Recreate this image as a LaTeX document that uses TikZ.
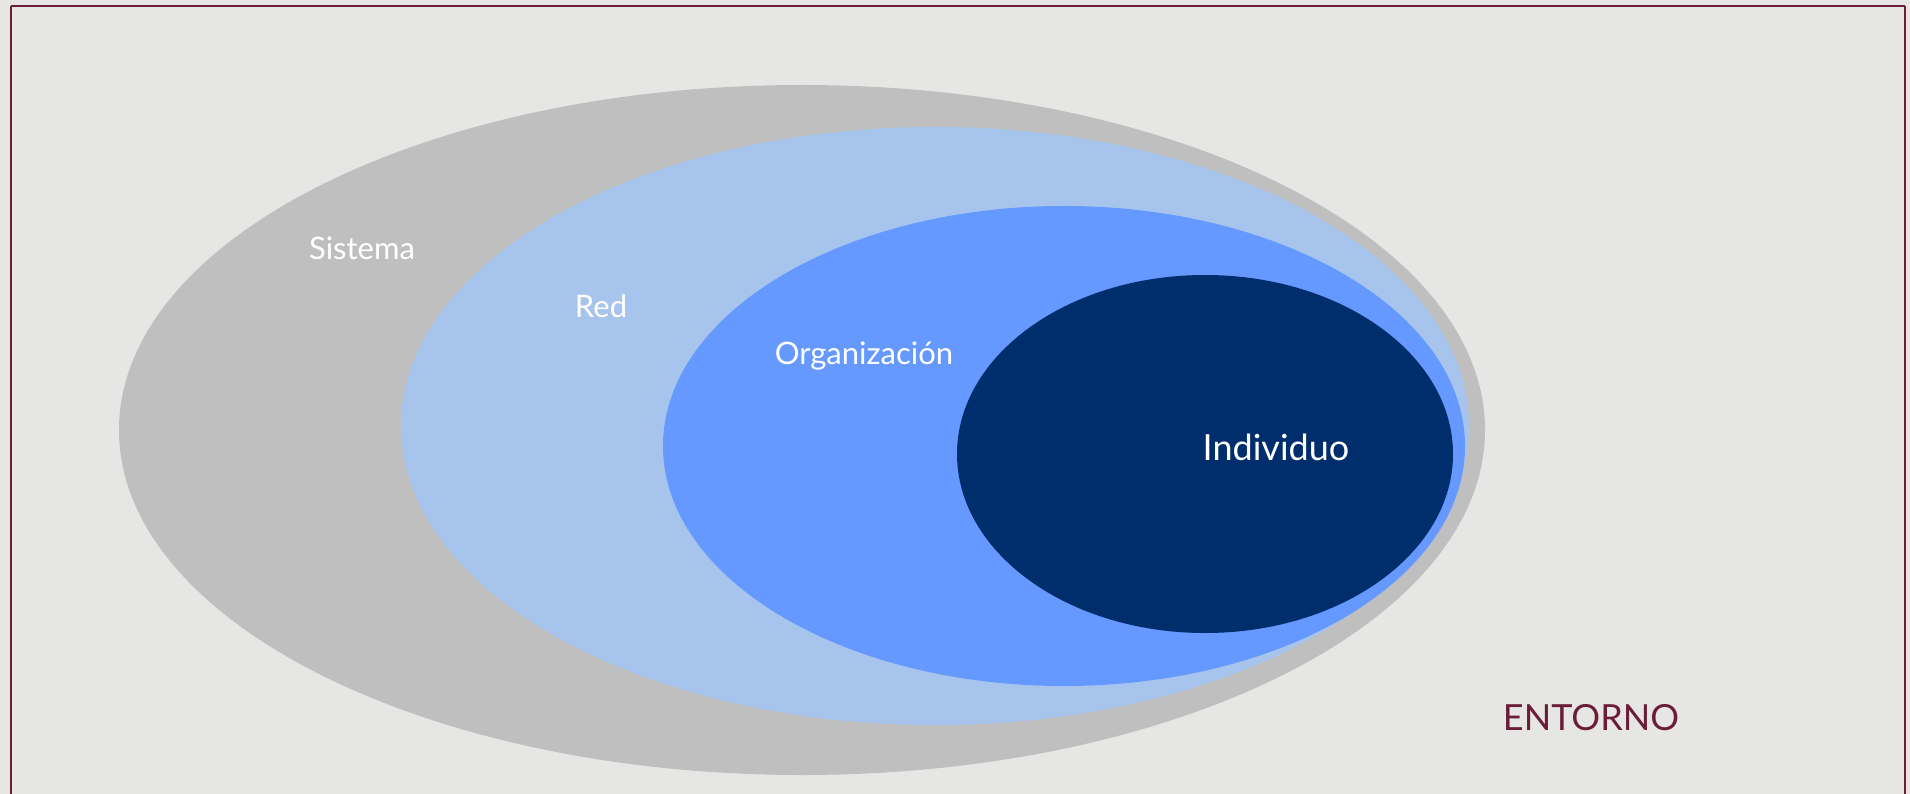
\documentclass[tikz,border=0pt]{standalone}
\usepackage{xcolor}
\usepackage{fontspec}
\setmainfont{Lato}
\usepackage{tikz}

\definecolor{fondo}{HTML}{E6E6E4}
\definecolor{granate}{HTML}{6B1D38}
\definecolor{gsistema}{HTML}{BFBFBF}
\definecolor{cred}{HTML}{A7C5EC}
\definecolor{corg}{HTML}{6699FF}
\definecolor{cind}{HTML}{002D6B}

\begin{document}
\begin{tikzpicture}[x=1pt,y=1pt,yscale=-1]
\fill [fondo] (0,0) rectangle (1910,794);
\useasboundingbox (0,0) rectangle (1910,794);
\draw [granate][line width=2] (11,6) -- (1905,6) ;
\draw [granate][line width=2] (11,6) -- (11,800) ;
\draw [granate][line width=2] (1905,6) -- (1905,800) ;
\fill [gsistema] (802,430) ellipse [x radius=683, y radius=345];
\fill [cred] (935,426) ellipse [x radius=534, y radius=299];
\fill [corg] (1064,446) ellipse [x radius=401, y radius=240];
\fill [cind] (1205,454) ellipse [x radius=248, y radius=179];
%Text
\draw (362,260) node (sistema) [anchor=base][inner sep=0.75pt] [align=left] {\fontsize{31}{36}\selectfont\color{white}Sistema};
\draw (601,317) node (red) [anchor=base][inner sep=0.75pt] [align=left] {\fontsize{31}{36}\selectfont\color{white}Red};
\draw (864,364) node (organizacion) [anchor=base][inner sep=0.75pt] [align=left] {\fontsize{31}{36}\selectfont\color{white}Organización};
\draw (1276,460) node (individuo) [anchor=base][inner sep=0.75pt] [align=left] {\fontsize{36}{42}\selectfont\color{white}Individuo};
\draw (1591,730) node (entorno) [anchor=base][inner sep=0.75pt] [align=left] {\fontsize{36}{42}\selectfont\color{granate}ENTORNO};
\end{tikzpicture}
\end{document}
